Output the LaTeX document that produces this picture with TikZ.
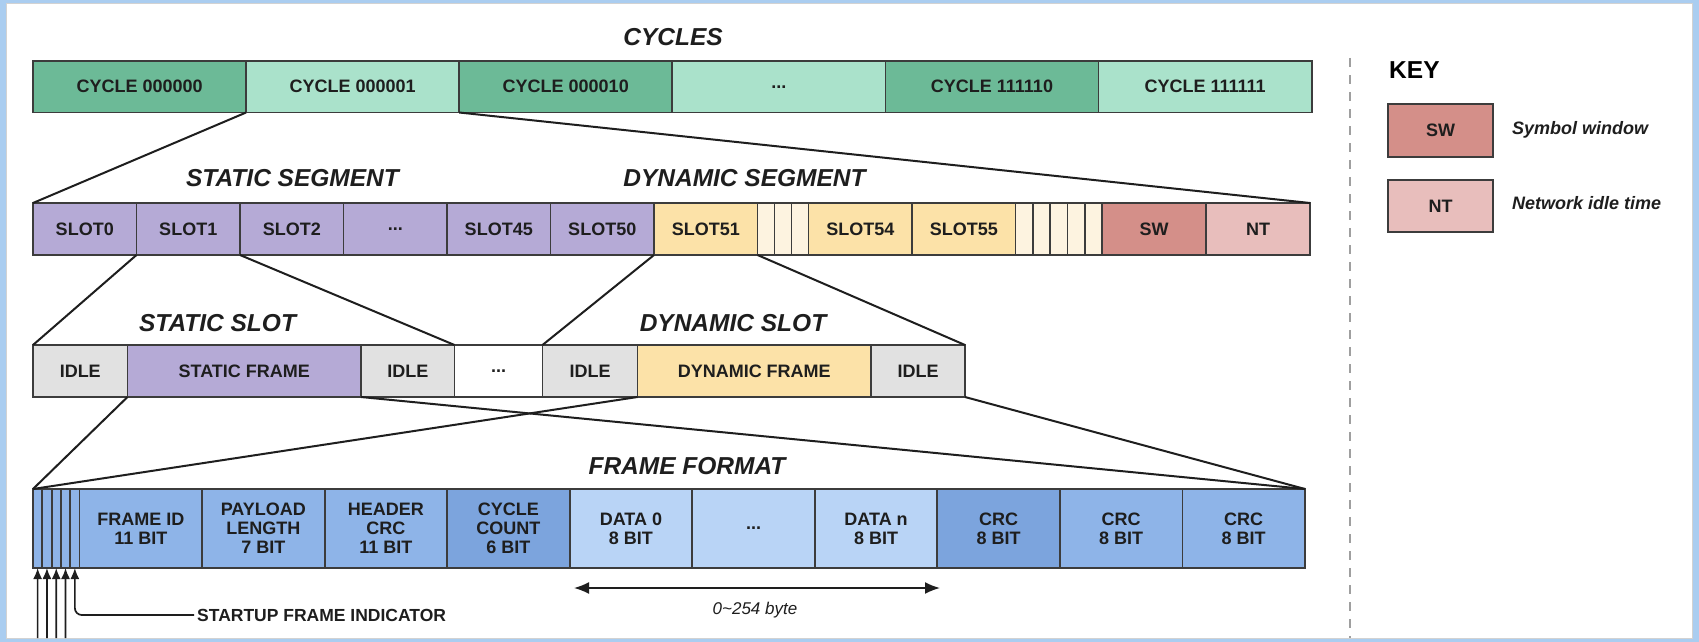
\documentclass[tikz,border=0pt]{standalone}
\usepackage{fontspec}
\setmainfont{Liberation Sans}
\usetikzlibrary{arrows.meta}

\definecolor{cycdark}{RGB}{108,186,151}
\definecolor{cyclight}{RGB}{170,226,203}
\definecolor{slotpurple}{RGB}{181,170,214}
\definecolor{slotyellow}{RGB}{252,226,168}
\definecolor{slotcream}{RGB}{253,243,224}
\definecolor{swred}{RGB}{212,143,137}
\definecolor{ntpink}{RGB}{232,190,188}
\definecolor{idlegray}{RGB}{225,225,225}
\definecolor{fblue}{RGB}{142,180,232}
\definecolor{fdark}{RGB}{124,164,221}
\definecolor{flight}{RGB}{185,212,246}
\definecolor{edgegray}{RGB}{60,60,60}
\definecolor{framebg}{RGB}{170,205,240}
\definecolor{inkblack}{RGB}{30,30,30}

\newcommand{\cellfont}{\bfseries\fontsize{18}{18.8}\selectfont}
\newcommand{\titlefont}{\bfseries\itshape\fontsize{24.5}{26}\selectfont}
\newcommand{\ellip}{...}

\tikzset{
  cell/.style={draw=edgegray,line width=1.8pt,anchor=north west,inner sep=0pt,outer sep=0pt,
    align=center,font=\cellfont,text=inkblack},
  title/.style={font=\titlefont,text=inkblack,inner sep=0pt},
  zoomline/.style={draw=inkblack,line width=2pt},
  ptr/.style={draw=inkblack,line width=1.7pt},
}

\begin{document}
\begin{tikzpicture}[x=1pt,y=-1pt,>={Latex[length=15pt,width=12pt]}]
\useasboundingbox (0,0) rectangle (1699,642);
% screenshot frame
\fill[framebg] (0,0) rectangle (1699,642);
\fill[white] (6,4) rectangle (1692,638);
\draw[gray!35,line width=1pt] (6,4) rectangle (1692,638);

% cycles
\node[title] (tcyc) at (673,37) {CYCLES};
\foreach \i/\t/\c in {0/CYCLE 000000/cycdark,1/CYCLE 000001/cyclight,2/CYCLE 000010/cycdark,
    3/\ellip/cyclight,4/CYCLE 111110/cycdark,5/CYCLE 111111/cyclight}
  \node[cell,fill=\c,minimum width=213.1pt,minimum height=51.5pt] (cy\i) at ({33+213.1*\i},61) {\t};

% segments
\node[title] (tstat) at (292.5,178) {STATIC SEGMENT};
\node[title] (tdyn) at (744.5,178) {DYNAMIC SEGMENT};
\foreach \i/\t/\c in {0/SLOT0/slotpurple,1/SLOT1/slotpurple,2/SLOT2/slotpurple,3/\ellip/slotpurple,
    4/SLOT45/slotpurple,5/SLOT50/slotpurple,6/SLOT51/slotyellow}
  \node[cell,fill=\c,minimum width=103.5pt,minimum height=52pt] (s\i) at ({33+103.5*\i},203) {\t};
\foreach \k in {0,1,2}
  \node[cell,fill=slotcream,minimum width=17pt,minimum height=52pt] (a\k) at ({757.5+17*\k},203) {};
\node[cell,fill=slotyellow,minimum width=103.5pt,minimum height=52pt] (s7) at (808.5,203) {SLOT54};
\node[cell,fill=slotyellow,minimum width=103.5pt,minimum height=52pt] (s8) at (912,203) {SLOT55};
\foreach \k in {0,1,2,3,4}
  \node[cell,fill=slotcream,minimum width=17.3pt,minimum height=52pt] (b\k) at ({1015.5+17.3*\k},203) {};
\node[cell,fill=swred,minimum width=104pt,minimum height=52pt] (sw) at (1102,203) {SW};
\node[cell,fill=ntpink,minimum width=104pt,minimum height=52pt] (nt) at (1206,203) {NT};

\draw[zoomline] (cy1.south west) -- (s0.north west);
\draw[zoomline] (cy1.south east) -- (nt.north east);

% slots
\node[title] (tsslot) at (217.5,323) {STATIC SLOT};
\node[title] (tdslot) at (733,323) {DYNAMIC SLOT};
\node[cell,fill=idlegray,minimum width=94.5pt,minimum height=52pt] (i0) at (33,345) {IDLE};
\node[cell,fill=slotpurple,minimum width=233.5pt,minimum height=52pt] (sf) at (127.5,345) {STATIC FRAME};
\node[cell,fill=idlegray,minimum width=93.5pt,minimum height=52pt] (i1) at (361,345) {IDLE};
\node[cell,fill=white,minimum width=88pt,minimum height=52pt] (dd) at (454.5,345) {\ellip};
\node[cell,fill=idlegray,minimum width=95pt,minimum height=52pt] (i2) at (542.5,345) {IDLE};
\node[cell,fill=slotyellow,minimum width=233.5pt,minimum height=52pt] (df) at (637.5,345) {DYNAMIC FRAME};
\node[cell,fill=idlegray,minimum width=94pt,minimum height=52pt] (i3) at (871,345) {IDLE};

\draw[zoomline] (s1.south west) -- (i0.north west);
\draw[zoomline] (s1.south east) -- (i1.north east);
\draw[zoomline] (s6.south west) -- (i2.north west);
\draw[zoomline] (s6.south east) -- (i3.north east);

% frame format
\node[title] (tframe) at (687,466) {FRAME FORMAT};
\foreach \k in {1,2,3,4,5}
  \node[cell,fill=fblue,minimum width=9.3pt,minimum height=79pt] (t\k) at ({33+9.3*(\k-1)},489) {};
\foreach \i/\t/\c in {0/FRAME ID\\11 BIT/fblue,1/PAYLOAD\\LENGTH\\7 BIT/fblue,2/HEADER\\CRC\\11 BIT/fblue,
    3/CYCLE\\COUNT\\6 BIT/fdark,4/DATA 0\\8 BIT/flight,5/\ellip/flight,6/DATA n\\8 BIT/flight,
    7/CRC\\8 BIT/fdark,8/CRC\\8 BIT/fblue,9/CRC\\8 BIT/fblue}
  \node[cell,fill=\c,minimum width=122.55pt,minimum height=79pt] (f\i) at ({79.5+122.55*\i},489) {\t};

\draw[zoomline] (sf.south west) -- (t1.north west);
\draw[zoomline] (sf.south east) -- (f9.north east);
\draw[zoomline] (df.south west) -- (t1.north west);
\draw[zoomline] (i3.south east) -- (f9.north east);

% startup indicator arrows
\foreach \k in {1,2,3,4}{
  \coordinate (e\k) at ({37.6+9.3*(\k-1)},638);
  \draw[ptr,-{Latex[length=11pt,width=9pt]}] (e\k) -- (t\k.south);
}
\node[anchor=west,inner sep=0pt,font=\bfseries\fontsize{17.5}{19}\selectfont,text=inkblack] (sfi) at (197,615) {STARTUP FRAME INDICATOR};
\draw[ptr,{Latex[length=11pt,width=9pt]}-,rounded corners=7pt] (t5.south) |- ([xshift=-3pt]sfi.west);

% payload length
\coordinate (p0) at (574,588);
\coordinate (p1) at (940,588);
\draw[ptr,<->] (p0) -- (p1);
\node[inner sep=0pt,font=\itshape\fontsize{17}{19}\selectfont,text=inkblack] (plen) at (755,610) {0\textasciitilde254 byte};

% key
\draw[gray!75,line width=2.5pt,dash pattern=on 9pt off 8pt] (1350,58) -- (1350,638);
\node[anchor=west,inner sep=0pt,font=\bfseries\fontsize{24.5}{26}\selectfont,text=black] (key) at (1389,70.5) {KEY};
\node[cell,fill=swred,minimum width=105pt,minimum height=53pt] (ksw) at (1388,104) {SW};
\node[cell,fill=ntpink,minimum width=105pt,minimum height=52pt] (knt) at (1388,180) {NT};
\node[anchor=west,inner sep=0pt,font=\bfseries\itshape\fontsize{18}{20}\selectfont,text=inkblack] (lsw) at (1512,130) {Symbol window};
\node[anchor=west,inner sep=0pt,font=\bfseries\itshape\fontsize{18}{20}\selectfont,text=inkblack] (lnt) at (1512,203) {Network idle time};
\end{tikzpicture}
\end{document}
